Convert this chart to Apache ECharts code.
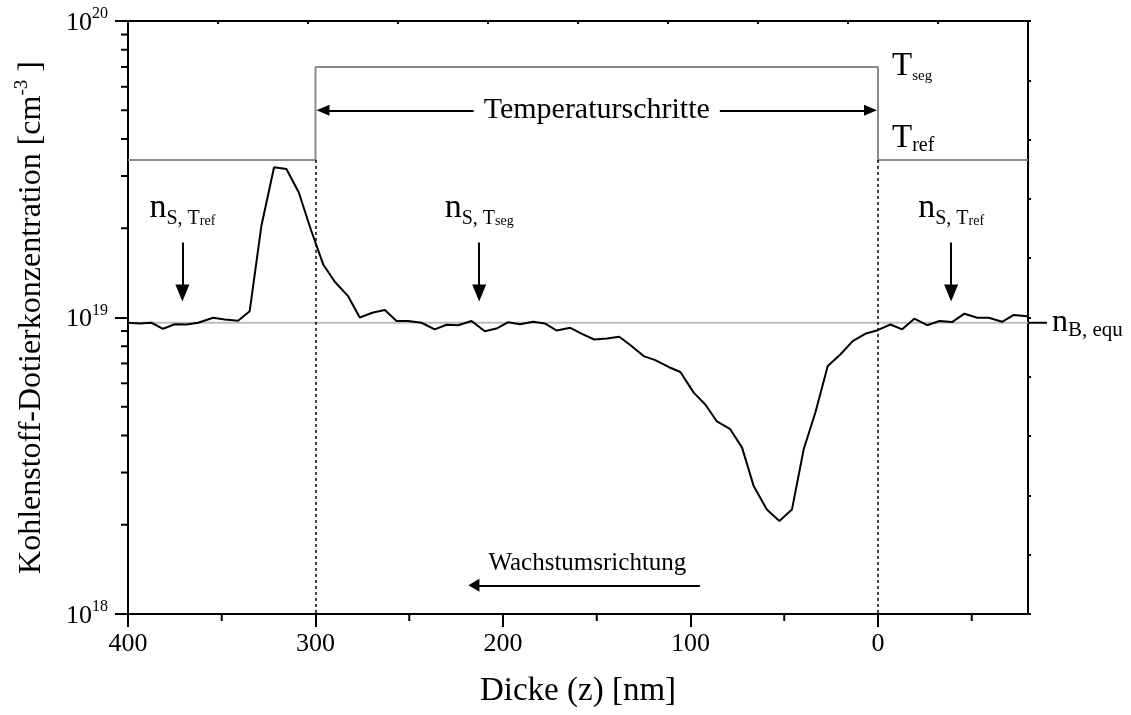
<!DOCTYPE html>
<html>
<head>
<meta charset="utf-8">
<script src="https://cdn.jsdelivr.net/npm/echarts@6/dist/echarts.min.js"></script>
<style>
  html, body { margin: 0; padding: 0; background: #fff; }
  #chart { width: 1131px; height: 715px; }
</style>
</head>
<body>
<div id="chart"></div>
<script>
// Carbon doping profile: depth (nm) and concentration (cm^-3)
const thicknessNm = [
  400, 393.8, 387.5, 381.3, 375.1, 368.9, 362.6, 354.6, 348.4, 341.3,
  335.1, 328.9, 322.1, 315.5, 308.9, 302.5, 295.9, 289.7, 282.6, 276.4,
  269.3, 263, 256.8, 250.6, 243.5, 236.4, 230.1, 223.9, 216.8, 209.7,
  203.5, 197.2, 191, 183.9, 177.7, 171.4, 164.1, 157.9, 151.3, 144.6,
  138, 131.8, 125, 118.8, 111.7, 105.4, 98.3, 92.1, 85.9, 78.8,
  72.5, 66.3, 59.3, 52.6, 45.9, 39.6, 33.4, 26.8, 20.1, 13.5,
  6.8, 0.2, -6.6, -12.9, -19.4, -26.2, -32.8, -39.5, -46.1, -52.9,
  -59.1, -66.2, -72.4, -79.5
];
const carbonConc = [
  9.60e18, 9.55e18, 9.60e18, 9.16e18, 9.49e18, 9.47e18, 9.60e18, 9.98e18, 9.85e18, 9.75e18,
  1.05e19, 2.03e19, 3.21e19, 3.17e19, 2.64e19, 1.98e19, 1.51e19, 1.32e19, 1.18e19, 1.00e19,
  1.04e19, 1.06e19, 9.73e18, 9.73e18, 9.60e18, 9.12e18, 9.45e18, 9.42e18, 9.73e18, 8.99e18,
  9.18e18, 9.64e18, 9.49e18, 9.68e18, 9.55e18, 9.04e18, 9.23e18, 8.81e18, 8.43e18, 8.50e18,
  8.61e18, 8.05e18, 7.41e18, 7.18e18, 6.81e18, 6.55e18, 5.58e18, 5.09e18, 4.46e18, 4.20e18,
  3.64e18, 2.70e18, 2.25e18, 2.06e18, 2.25e18, 3.60e18, 4.78e18, 6.86e18, 7.50e18, 8.32e18,
  8.81e18, 9.06e18, 9.47e18, 9.12e18, 9.91e18, 9.42e18, 9.73e18, 9.65e18, 1.03e19, 9.98e18,
  9.98e18, 9.67e18, 1.02e19, 1.01e19
];

// Growth temperature steps (schematic levels on the same axis)
const stepThickness = [400, 300, 300, 0, 0, -80];
const stepLevel = [3.4e19, 3.4e19, 7.0e19, 7.0e19, 3.4e19, 3.4e19];
const levelTref = 3.4e19;
const levelTseg = 7.0e19;

// Equilibrium bulk concentration
const equilibriumConc = 9.6e18;

// Axis ticks
const xLabelValues = [400, 300, 200, 100, 0];
const xMinorTickValues = [350, 250, 150, 50, -50];
const yMinorTickValues = [
  2e18, 3e18, 4e18, 5e18, 6e18, 7e18, 8e18, 9e18,
  2e19, 3e19, 4e19, 5e19, 6e19, 7e19, 8e19, 9e19
];

const FONT = 'Liberation Serif';
const BLACK = '#000';

const chart = echarts.init(document.getElementById('chart'), null, { renderer: 'canvas' });

const option = {
  animation: false,
  backgroundColor: '#fff',
  grid: { left: 128, right: 103, top: 21, bottom: 100 },
  xAxis: [
    {
      type: 'value', position: 'bottom', inverse: true, min: -80, max: 400,
      name: 'Dicke (z) [nm]', nameLocation: 'middle', nameGap: 58,
      nameTextStyle: { fontFamily: FONT, fontSize: 33, color: BLACK, lineHeight: 38 },
      axisLine: { show: true, onZero: false, lineStyle: { color: BLACK, width: 2 } },
      axisTick: { show: true, inside: false, length: 13, customValues: xLabelValues, lineStyle: { color: BLACK, width: 2 } },
      axisLabel: { show: true, customValues: xLabelValues, margin: 17, fontFamily: FONT, fontSize: 26, color: BLACK, lineHeight: 26 },
      splitLine: { show: false }
    },
    {
      type: 'value', position: 'top', min: 0, max: 10, interval: 1,
      axisLine: { show: true, onZero: false, lineStyle: { color: BLACK, width: 2 } },
      axisTick: { show: true, inside: true, length: 3, lineStyle: { color: BLACK, width: 2 } },
      axisLabel: { show: false },
      splitLine: { show: false }
    }
  ],
  yAxis: [
    {
      type: 'log', logBase: 10, position: 'left', min: 1e18, max: 1e20,
      name: 'Kohlenstoff-Dotierkonzentration [cm{sup|-3} ]',
      nameLocation: 'middle', nameGap: 77, nameRotate: 90,
      nameTextStyle: {
        fontFamily: FONT, fontSize: 32, color: BLACK, lineHeight: 38,
        rich: { sup: { fontFamily: FONT, fontSize: 19, color: BLACK, verticalAlign: 'top', lineHeight: 20 } }
      },
      axisLine: { show: true, onZero: false, lineStyle: { color: BLACK, width: 2 } },
      axisTick: { show: true, inside: false, length: 13, lineStyle: { color: BLACK, width: 2 } },
      axisLabel: {
        show: true, margin: 20,
        formatter: v => '{b|10}{s|' + Math.round(Math.log10(v)) + '}',
        rich: {
          b: { fontFamily: FONT, fontSize: 26, color: BLACK, lineHeight: 30, verticalAlign: 'bottom' },
          s: { fontFamily: FONT, fontSize: 16, color: BLACK, lineHeight: 16, verticalAlign: 'top' }
        }
      },
      splitLine: { show: false },
      minorTick: { show: false }
    },
    {
      type: 'value', position: 'right', min: 0, max: 10, interval: 1,
      axisLine: { show: true, onZero: false, lineStyle: { color: BLACK, width: 2 } },
      axisTick: { show: true, inside: false, length: 3, lineStyle: { color: BLACK, width: 2 } },
      axisLabel: { show: false },
      splitLine: { show: false }
    }
  ],
  series: [
    {
      // equilibrium level n_B,equ
      name: 'nB', type: 'line', xAxisIndex: 0, yAxisIndex: 0, z: 2,
      data: [[400, equilibriumConc], [-80, equilibriumConc]],
      showSymbol: false, silent: true,
      lineStyle: { color: '#bdbdbd', width: 2 },
      markPoint: {
        silent: true, symbol: 'circle', symbolSize: 0,
        label: {
          show: true, position: 'right', distance: 0,
          formatter: '{d| }{n|n}{s|B, equ}',
          rich: {
            d: { width: 19, height: 2, backgroundColor: BLACK, verticalAlign: 'middle', lineHeight: 2 },
            n: { fontFamily: FONT, fontSize: 32, color: BLACK, lineHeight: 36, padding: [0, 0, 0, 5] },
            s: { fontFamily: FONT, fontSize: 21, color: BLACK, lineHeight: 19, verticalAlign: 'bottom' }
          }
        },
        data: [{ coord: [-80, equilibriumConc] }]
      }
    },
    {
      // temperature step profile
      name: 'Temperatur', type: 'line', xAxisIndex: 0, yAxisIndex: 0, z: 2,
      data: stepThickness.map((x, i) => [x, stepLevel[i]]),
      showSymbol: false, silent: true,
      lineStyle: { color: '#8c8c8c', width: 2 },
      markLine: {
        silent: true, symbol: 'none', label: { show: false },
        lineStyle: { color: BLACK, width: 1.5, type: [3, 3] },
        data: [
          [{ coord: [300, levelTref] }, { coord: [300, 1e18] }],
          [{ coord: [0, levelTref] }, { coord: [0, 1e18] }]
        ]
      },
      markPoint: {
        silent: true, symbol: 'circle', symbolSize: 0,
        label: {
          show: true, position: 'right', distance: 14,
          rich: {
            T: { fontFamily: FONT, fontSize: 33, color: BLACK, lineHeight: 36 },
            seg: { fontFamily: FONT, fontSize: 15, color: BLACK, lineHeight: 12, verticalAlign: 'bottom' },
            ref: { fontFamily: FONT, fontSize: 20, color: BLACK, lineHeight: 20, verticalAlign: 'bottom' }
          }
        },
        data: [
          { coord: [0, levelTseg], label: { formatter: '{T|T}{seg|seg}', offset: [0, -1] } },
          { coord: [0, levelTref], label: { formatter: '{T|T}{ref|ref}', offset: [0, -22] } }
        ]
      }
    },
    {
      // measured carbon profile
      name: 'Kohlenstoff', type: 'line', xAxisIndex: 0, yAxisIndex: 0, z: 4,
      data: thicknessNm.map((x, i) => [x, carbonConc[i]]),
      showSymbol: false, silent: true,
      lineStyle: { color: BLACK, width: 2 }
    },
    {
      // arrows and annotation texts
      name: 'Hinweise', type: 'line', xAxisIndex: 0, yAxisIndex: 0, z: 5,
      data: [], silent: true,
      markLine: {
        silent: true,
        lineStyle: { color: BLACK, width: 2, type: 'solid' },
        label: { show: false },
        data: [
          [
            { coord: [296, 5e19], symbol: 'triangle', symbolSize: [11, 13] },
            { coord: [4, 5e19], symbol: 'triangle', symbolSize: [11, 13],
              label: { show: true, position: 'insideMiddle', formatter: 'Temperaturschritte',
                fontFamily: FONT, fontSize: 30, color: BLACK, backgroundColor: '#fff', padding: [2, 10] } }
          ],
          [
            { coord: [371, 1.79e19], symbol: 'none' },
            { coord: [371, 1.21e19], symbol: 'triangle', symbolSize: [14, 17] }
          ],
          [
            { coord: [212.7, 1.79e19], symbol: 'none' },
            { coord: [212.7, 1.21e19], symbol: 'triangle', symbolSize: [14, 17] }
          ],
          [
            { coord: [-39, 1.79e19], symbol: 'none' },
            { coord: [-39, 1.21e19], symbol: 'triangle', symbolSize: [14, 17] }
          ],
          [
            { coord: [95, 1.25e18], symbol: 'none' },
            { coord: [215.5, 1.25e18], symbol: 'triangle', symbolSize: [13, 11] }
          ]
        ]
      },
      markPoint: {
        silent: true, symbol: 'circle', symbolSize: 0,
        label: {
          show: true, position: 'top', distance: 14,
          rich: {
            n: { fontFamily: FONT, fontSize: 34, color: BLACK, lineHeight: 40 },
            s: { fontFamily: FONT, fontSize: 20, color: BLACK, lineHeight: 15, verticalAlign: 'bottom' },
            r: { fontFamily: FONT, fontSize: 14, color: BLACK, lineHeight: 7, verticalAlign: 'bottom' }
          }
        },
        data: [
          { coord: [371, 1.79e19], label: { formatter: '{n|n}{s|S, T}{r|ref}' } },
          { coord: [212.7, 1.79e19], label: { formatter: '{n|n}{s|S, T}{r|seg}' } },
          { coord: [-39, 1.79e19], label: { formatter: '{n|n}{s|S, T}{r|ref}' } },
          { coord: [155, 1.25e18], label: { formatter: 'Wachstumsrichtung', distance: 9,
            fontFamily: FONT, fontSize: 25, color: BLACK, lineHeight: 25 } }
        ]
      }
    },
    {
      // minor ticks of the logarithmic axis
      name: 'yMinor', type: 'custom', xAxisIndex: 0, yAxisIndex: 0, silent: true, clip: false, z: 6,
      data: yMinorTickValues.map(v => [400, v]),
      renderItem: (params, api) => {
        const p = api.coord([api.value(0), api.value(1)]);
        return { type: 'line', shape: { x1: p[0] - 7, y1: p[1], x2: p[0], y2: p[1] },
          style: { stroke: BLACK, lineWidth: 2 } };
      }
    },
    {
      // intermediate ticks of the depth axis
      name: 'xMinor', type: 'custom', xAxisIndex: 0, yAxisIndex: 0, silent: true, clip: false, z: 6,
      data: xMinorTickValues.map(v => [v, 1e18]),
      renderItem: (params, api) => {
        const p = api.coord([api.value(0), api.value(1)]);
        return { type: 'line', shape: { x1: p[0], y1: p[1], x2: p[0], y2: p[1] + 7 },
          style: { stroke: BLACK, lineWidth: 2 } };
      }
    }
  ]
};

chart.setOption(option);
</script>
</body>
</html>
